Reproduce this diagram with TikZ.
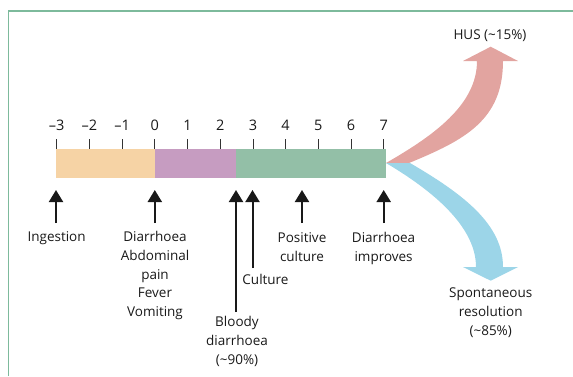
\documentclass[tikz,border=0pt]{standalone}
\usepackage{fontspec}
\setmainfont{Open Sans}
\usepackage{tikz}
\usetikzlibrary{positioning,calc,arrows.meta}
\definecolor{StecFrame}{HTML}{7DBA9C}
\definecolor{StecPeach}{HTML}{F6D3A5}
\definecolor{StecPurple}{HTML}{C69CC1}
\definecolor{StecGreen}{HTML}{93BFA7}
\definecolor{StecPink}{HTML}{E2A4A0}
\definecolor{StecBlue}{HTML}{9CD5E8}

\begin{document}
\begin{tikzpicture}[x=1pt,y=-1pt,
    lbl/.style={font=\fontsize{13.5}{18.75}\selectfont,text=black!90,align=center,inner sep=0pt,anchor=base},
    evarrow/.style={-{Triangle[width=14pt,length=12pt]},line width=2pt,black!90},
    tickmark/.style={line width=0.8pt,black!80}]
  \useasboundingbox (0,0) rectangle (573,376);
  % frame
  \draw[StecFrame,line width=1.5pt] (8.5,376) -- (8.5,11) -- (573,11);
  % time bar
  \fill[StecPeach] (56,149) rectangle (154.8,178);
  \fill[StecPurple] (154.8,149) rectangle (236,178);
  \fill[StecGreen] (236,149) rectangle (386,178);
  \coordinate (barend) at (386,163);
  % day ticks
  \foreach \d/\lab in {-3/\textendash3,-2/\textendash2,-1/\textendash1,0/0,1/1,2/2,3/3,4/4,5/5,6/6,7/7}{
    \draw[tickmark] ({154.8+32.7*\d},139) -- ({154.8+32.7*\d},149);
    \node[lbl,font=\fontsize{14.5}{16}\selectfont] (day\d) at ({154.8+32.7*\d},130.5) {\lab};
  }
  % events (base = last line)
  \foreach \n/\x/\y in {ingest/56/223,onset/154.8/223,bloody/236/312,cult/252.5/268,poscult/302/223,improve/383.7/223}{
    \coordinate (foot-\n) at (\x,\y);
    \coordinate (tip-\n) at (\x,190);
    \draw[evarrow] (foot-\n) -- (tip-\n);
  }
  \node[lbl] (ingest) at (56.6,241.5) {Ingestion};
  \node[lbl] (onset) at (155,316.5) {Diarrhoea\\Abdominal\\pain\\Fever\\Vomiting};
  \node[lbl] (bloody) at (237,364) {Bloody\\diarrhoea\\(\textasciitilde90\%)};
  \node[lbl] (cult) at (265.5,284) {Culture};
  \node[lbl] (poscult) at (302,261.5) {Positive\\culture};
  \node[lbl] (improve) at (383.6,261.5) {Diarrhoea\\improves};
  % outcomes
  \fill[StecPink] (barend) .. controls (433,136) and (477,105) .. (477,61)
    -- (463,61) -- (490.7,46.7) -- (518,61) -- (503,61)
    .. controls (503,120) and (465,140) .. (409,163) -- cycle;
  \fill[StecBlue] (barend) -- (410,163) .. controls (465,195) and (503,225) .. (503,267)
    -- (518,267) -- (490.7,280.7) -- (463,267) -- (476,267)
    .. controls (476,230) and (440,195) .. (barend) -- cycle;
  \node[lbl] (hus) at (490,39.5) {HUS (\textasciitilde15\%)};
  \node[lbl] (spont) at (490.7,335) {Spontaneous\\resolution\\(\textasciitilde85\%)};
\end{tikzpicture}
\end{document}
